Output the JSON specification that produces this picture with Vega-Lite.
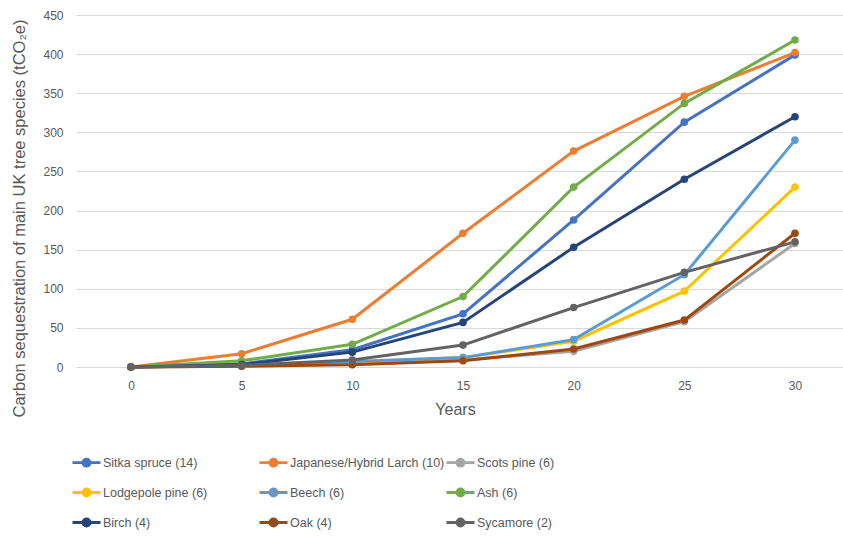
{
  "$schema": "https://vega.github.io/schema/vega-lite/v6.json",
  "width": 767,
  "height": 352,
  "autosize": {"type": "none"},
  "padding": {"left": 76, "top": 15, "right": 0, "bottom": 175},
  "background": "white",
  "config": {
    "font": "Liberation Sans Narrow, Liberation Sans, sans-serif",
    "view": {"stroke": null}
  },
  "data": {
    "values": [
      {"species": "Sitka spruce (14)", "years": 0, "co2": 0},
      {"species": "Sitka spruce (14)", "years": 5, "co2": 4},
      {"species": "Sitka spruce (14)", "years": 10, "co2": 22},
      {"species": "Sitka spruce (14)", "years": 15, "co2": 68},
      {"species": "Sitka spruce (14)", "years": 20, "co2": 188},
      {"species": "Sitka spruce (14)", "years": 25, "co2": 313},
      {"species": "Sitka spruce (14)", "years": 30, "co2": 399},
      {"species": "Japanese/Hybrid Larch (10)", "years": 0, "co2": 0},
      {"species": "Japanese/Hybrid Larch (10)", "years": 5, "co2": 17},
      {"species": "Japanese/Hybrid Larch (10)", "years": 10, "co2": 61},
      {"species": "Japanese/Hybrid Larch (10)", "years": 15, "co2": 171},
      {"species": "Japanese/Hybrid Larch (10)", "years": 20, "co2": 276},
      {"species": "Japanese/Hybrid Larch (10)", "years": 25, "co2": 346},
      {"species": "Japanese/Hybrid Larch (10)", "years": 30, "co2": 402},
      {"species": "Scots pine (6)", "years": 0, "co2": 0},
      {"species": "Scots pine (6)", "years": 5, "co2": 1},
      {"species": "Scots pine (6)", "years": 10, "co2": 4},
      {"species": "Scots pine (6)", "years": 15, "co2": 9},
      {"species": "Scots pine (6)", "years": 20, "co2": 20},
      {"species": "Scots pine (6)", "years": 25, "co2": 58},
      {"species": "Scots pine (6)", "years": 30, "co2": 158},
      {"species": "Lodgepole pine (6)", "years": 0, "co2": 0},
      {"species": "Lodgepole pine (6)", "years": 5, "co2": 2},
      {"species": "Lodgepole pine (6)", "years": 10, "co2": 6},
      {"species": "Lodgepole pine (6)", "years": 15, "co2": 12},
      {"species": "Lodgepole pine (6)", "years": 20, "co2": 33},
      {"species": "Lodgepole pine (6)", "years": 25, "co2": 97},
      {"species": "Lodgepole pine (6)", "years": 30, "co2": 230},
      {"species": "Beech (6)", "years": 0, "co2": 0},
      {"species": "Beech (6)", "years": 5, "co2": 2},
      {"species": "Beech (6)", "years": 10, "co2": 7},
      {"species": "Beech (6)", "years": 15, "co2": 12},
      {"species": "Beech (6)", "years": 20, "co2": 35},
      {"species": "Beech (6)", "years": 25, "co2": 118},
      {"species": "Beech (6)", "years": 30, "co2": 290},
      {"species": "Ash (6)", "years": 0, "co2": 0},
      {"species": "Ash (6)", "years": 5, "co2": 8},
      {"species": "Ash (6)", "years": 10, "co2": 29},
      {"species": "Ash (6)", "years": 15, "co2": 90},
      {"species": "Ash (6)", "years": 20, "co2": 230},
      {"species": "Ash (6)", "years": 25, "co2": 337},
      {"species": "Ash (6)", "years": 30, "co2": 418},
      {"species": "Birch (4)", "years": 0, "co2": 0},
      {"species": "Birch (4)", "years": 5, "co2": 3},
      {"species": "Birch (4)", "years": 10, "co2": 19},
      {"species": "Birch (4)", "years": 15, "co2": 57},
      {"species": "Birch (4)", "years": 20, "co2": 153},
      {"species": "Birch (4)", "years": 25, "co2": 240},
      {"species": "Birch (4)", "years": 30, "co2": 320},
      {"species": "Oak (4)", "years": 0, "co2": 0},
      {"species": "Oak (4)", "years": 5, "co2": 1},
      {"species": "Oak (4)", "years": 10, "co2": 3},
      {"species": "Oak (4)", "years": 15, "co2": 8},
      {"species": "Oak (4)", "years": 20, "co2": 23},
      {"species": "Oak (4)", "years": 25, "co2": 60},
      {"species": "Oak (4)", "years": 30, "co2": 171},
      {"species": "Sycamore (2)", "years": 0, "co2": 0},
      {"species": "Sycamore (2)", "years": 5, "co2": 2},
      {"species": "Sycamore (2)", "years": 10, "co2": 9},
      {"species": "Sycamore (2)", "years": 15, "co2": 28},
      {"species": "Sycamore (2)", "years": 20, "co2": 76},
      {"species": "Sycamore (2)", "years": 25, "co2": 121},
      {"species": "Sycamore (2)", "years": 30, "co2": 160}
    ]
  },
  "encoding": {
    "x": {
      "field": "years",
      "type": "quantitative",
      "scale": {"domain": [-2.485, 32.17], "nice": false, "zero": false},
      "axis": {
        "title": "Years",
        "values": [0, 5, 10, 15, 20, 25, 30],
        "grid": false,
        "domain": false,
        "ticks": false,
        "labelPadding": 13,
        "labelFontSize": 12,
        "labelColor": "#595959",
        "titleFontSize": 16,
        "titleFontWeight": "normal",
        "titleColor": "#595959",
        "titleX": 379,
        "titlePadding": 10
      }
    },
    "y": {
      "field": "co2",
      "type": "quantitative",
      "scale": {"domain": [0, 450], "nice": false},
      "axis": {
        "title": "Carbon sequestration of main UK tree species (tCO₂e)",
        "values": [0, 50, 100, 150, 200, 250, 300, 350, 400, 450],
        "grid": true,
        "gridColor": "#D9D9D9",
        "gridWidth": 1,
        "domain": false,
        "ticks": false,
        "labelPadding": 13,
        "labelFontSize": 12,
        "labelColor": "#595959",
        "titleFontSize": 16.5,
        "titleFontWeight": "normal",
        "titleColor": "#595959",
        "titleY": 203,
        "titleX": -57,
        "titleBaseline": "middle"
      }
    },
    "color": {
      "field": "species",
      "type": "nominal",
      "scale": {
        "domain": ["Sitka spruce (14)", "Japanese/Hybrid Larch (10)", "Scots pine (6)", "Lodgepole pine (6)", "Beech (6)", "Ash (6)", "Birch (4)", "Oak (4)", "Sycamore (2)"],
        "range": ["#4472C4", "#ED7D31", "#A5A5A5", "#FFC000", "#5B9BD5", "#70AD47", "#264478", "#9E480E", "#636363"]
      },
      "legend": {
        "title": null,
        "orient": "none",
        "direction": "horizontal",
        "legendX": -5,
        "legendY": 432,
        "columns": 3,
        "gridAlign": "all",
        "columnPadding": -10,
        "rowPadding": 5,
        "symbolType": "M-1,0L1,0M-0.25,0A0.25,0.25,0,1,1,0.25,0A0.25,0.25,0,1,1,-0.25,0Z",
        "symbolSize": 784,
        "symbolStrokeWidth": 2.8,
        "symbolOffset": 0,
        "labelOffset": 1,
        "labelFontSize": 12.5,
        "labelColor": "#595959",
        "labelLimit": 300,
        "encode": {
          "symbols": {
            "update": {
              "fill": {"scale": "color", "field": "value"},
              "stroke": {"scale": "color", "field": "value"},
              "opacity": {"value": 1}
            }
          }
        }
      }
    }
  },
  "layer": [
    {"mark": {"type": "line", "strokeWidth": 3}},
    {"mark": {"type": "point", "filled": true, "size": 58, "opacity": 1}}
  ]
}
